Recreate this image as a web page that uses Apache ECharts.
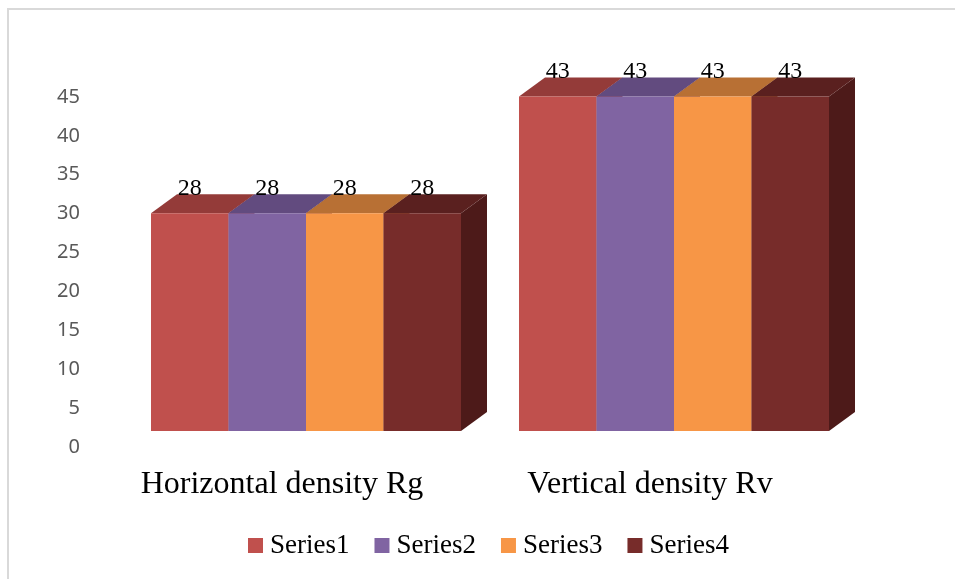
<!DOCTYPE html>
<html>
<head>
<meta charset="utf-8">
<script src="https://cdn.jsdelivr.net/npm/echarts@6/dist/echarts.min.js"></script>
<style>
  html, body { margin: 0; padding: 0; background: #ffffff; }
  #chart { width: 955px; height: 579px; }
</style>
</head>
<body>
<div id="chart"></div>
<script>
// Categories and series values
const categories = ['Horizontal density Rg', 'Vertical density Rv'];
const seriesNames = ['Series1', 'Series2', 'Series3', 'Series4'];
const series1 = [28, 43];
const series2 = [28, 43];
const series3 = [28, 43];
const series4 = [28, 43];
const yTicks = [0, 5, 10, 15, 20, 25, 30, 35, 40, 45];

// Face colours: front, top, side
const frontColors = ['#C0504D', '#8064A2', '#F79646', '#772C2A'];
const topColors = ['#943B39', '#624B7F', '#B87034', '#5A201F'];
const sideColors = ['#8A3431', '#57436F', '#A8652F', '#4D1A19'];

const allValues = [series1, series2, series3, series4];

// Oblique depth of the boxes, in pixels
const DEPTH_X = 26;
const DEPTH_Y = 19;
const LIFT = 16;          // front face sits above the back-wall baseline
const BAR_FRACTION = 0.2106;

function renderBox(params, api) {
  const si = params.seriesIndex;
  const cat = api.value(0);
  const val = api.value(1);
  const base = api.coord([cat, 0]);
  const topPt = api.coord([cat, val]);
  const band = api.size([1, 0])[0];
  const barW = band * BAR_FRACTION;
  const x0 = base[0] - 2 * barW + si * barW;
  const x1 = x0 + barW;
  const bottom = base[1] - LIFT;
  const top = topPt[1] - LIFT;
  const children = [
    {
      type: 'polygon',
      shape: { points: [[x1, bottom], [x1 + DEPTH_X, bottom - DEPTH_Y], [x1 + DEPTH_X, top - DEPTH_Y], [x1, top]] },
      style: { fill: sideColors[si] }
    },
    {
      type: 'polygon',
      shape: { points: [[x0, top], [x1, top], [x1 + DEPTH_X, top - DEPTH_Y], [x0 + DEPTH_X, top - DEPTH_Y]] },
      style: { fill: topColors[si] }
    },
    {
      type: 'rect',
      shape: { x: x0, y: top, width: barW, height: bottom - top },
      style: { fill: frontColors[si] }
    },
    {
      type: 'text',
      z2: 100,
      style: {
        text: String(val),
        x: (x0 + x1) / 2,
        y: top - 25,
        align: 'center',
        verticalAlign: 'middle',
        fill: '#000000',
        font: '24px "Liberation Serif", "Times New Roman", serif'
      }
    }
  ];
  return { type: 'group', children: children };
}

const chart = echarts.init(document.getElementById('chart'), null, { renderer: 'canvas' });

const option = {
  backgroundColor: '#ffffff',
  animation: false,
  color: frontColors,
  graphic: [
    {
      type: 'rect',
      shape: { x: 8, y: 9, width: 980, height: 620 },
      style: { fill: 'none', stroke: '#d9d9d9', lineWidth: 2 },
      silent: true,
      z: -10
    }
  ],
  grid: { left: 122, right: 97, top: 97, bottom: 132, containLabel: false },
  legend: {
    data: seriesNames,
    left: 248,
    top: 532,
    padding: 0,
    icon: 'rect',
    itemWidth: 15,
    itemHeight: 15,
    itemGap: 25,
    textStyle: {
      fontFamily: '"Liberation Serif", "Times New Roman", serif',
      fontSize: 27,
      color: '#000000',
      padding: [0, 0, 0, 2]
    }
  },
  xAxis: {
    type: 'category',
    data: categories,
    axisLine: { show: false },
    axisTick: { show: false },
    splitLine: { show: false },
    axisLabel: {
      fontFamily: '"Liberation Serif", "Times New Roman", serif',
      fontSize: 32,
      lineHeight: 32,
      color: '#000000',
      margin: 22,
      padding: [0, 48, 0, 0]
    }
  },
  yAxis: {
    type: 'value',
    min: yTicks[0],
    max: yTicks[yTicks.length - 1],
    interval: 5,
    axisLine: { show: false },
    axisTick: { show: false },
    splitLine: { show: false },
    axisLabel: {
      fontFamily: '"Noto Sans", "Open Sans", sans-serif',
      fontSize: 20,
      color: '#595959',
      margin: 42
    }
  },
  series: seriesNames.map((name, i) => ({
    name: name,
    type: 'custom',
    renderItem: renderBox,
    clip: false,
    itemStyle: { color: frontColors[i] },
    encode: { x: 0, y: 1 },
    data: allValues[i].map((v, c) => [c, v])
  }))
};

chart.setOption(option);
</script>
</body>
</html>
